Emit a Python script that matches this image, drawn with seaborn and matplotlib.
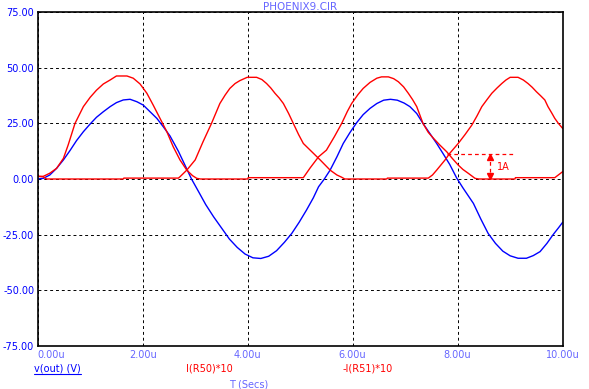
import numpy as np
import pandas as pd
import matplotlib
matplotlib.use("Agg")
import matplotlib.pyplot as plt
from matplotlib.lines import Line2D
import seaborn as sns

# Values (time in us)
t_vout = [0, 0.107, 0.23, 0.36, 0.49, 0.615, 0.74, 0.87, 1.0, 1.12, 1.25, 1.38, 1.50,
          1.63, 1.76, 1.89, 2.01, 2.14, 2.27, 2.39, 2.52, 2.68, 2.80, 2.93, 3.06, 3.20,
          3.35, 3.50, 3.65, 3.80, 3.95, 4.10, 4.25, 4.40, 4.55, 4.70, 4.84, 4.98, 5.12,
          5.25, 5.35, 5.46, 5.57, 5.70, 5.82, 5.95, 6.08, 6.20, 6.33, 6.46, 6.59, 6.72,
          6.85, 6.98, 7.09, 7.22, 7.34, 7.47, 7.60, 7.72, 7.85, 7.98, 8.10, 8.20, 8.30,
          8.44, 8.58, 8.72, 8.86, 9.00, 9.15, 9.31, 9.44, 9.57, 9.70, 9.82, 9.92, 10.0]
vout = [0, 0.3, 1.8, 4.8, 8.6, 12.8, 17.3, 21.3, 24.8, 27.8, 30.3, 32.6, 34.4,
        35.6, 35.9, 34.8, 33.3, 30.3, 27.3, 23.6, 19.4, 12.5, 6.5, 0, -5.5, -11.5,
        -17, -22, -27, -30.8, -33.8, -35.5, -35.8, -34.8, -32.3, -28.5, -24.5, -19.5, -14,
        -8.5, -3.5, 0, 4, 10, 16, 21, 25.5, 29, 31.8, 34, 35.5, 35.9,
        35.5, 34.2, 32.6, 29.5, 25, 20.5, 16, 11.5, 6.5, 0.5, -4, -7.5, -11,
        -18, -24.5, -29, -32.5, -34.6, -35.7, -35.7, -34.5, -32.7, -29, -25, -22, -19.5]

t_ir50 = [0, 0.107, 0.23, 0.36, 0.49, 0.58, 0.71, 0.87, 1.0, 1.12, 1.25, 1.38, 1.50,
          1.70, 1.82, 1.95, 2.08, 2.20, 2.33, 2.46, 2.58, 2.71, 2.84, 2.95, 3.03, 3.10,
          4.00, 4.01, 5.06, 5.19, 5.35, 5.50, 5.65, 5.79, 5.90, 5.98, 6.10, 6.20, 6.33,
          6.46, 6.55, 6.68, 6.78, 6.87, 6.97, 7.06, 7.14, 7.22, 7.34, 7.44, 7.54, 7.66,
          7.79, 7.90, 8.01, 8.10, 8.20, 8.33, 8.40, 9.09, 9.10, 9.85, 10.0]
ir50 = [1.2, 1.2, 2.6, 4.8, 9.3, 15.3, 25, 32.6, 36.8, 40, 42.8, 44.6, 46.4,
        46.4, 45.4, 42.8, 38.6, 33.3, 27.3, 21.3, 14.6, 8.6, 4, 1.5, 0.3, 0,
        0, 0.6, 0.6, 5, 10, 13, 19, 25, 30.5, 34, 38, 40.8, 43.5,
        45.4, 46, 46, 45.2, 43.8, 41.5, 38.6, 35.8, 32.6, 25, 21, 18.3, 15.3,
        12.3, 9.2, 6.3, 4.3, 2.6, 0.3, 0, 0, 0.6, 0.6, 3.3]

t_ir51 = [0, 0.10, 0.17, 1.63, 1.64, 2.68, 2.71, 2.84, 3.00, 3.15, 3.31, 3.47, 3.57,
          3.66, 3.76, 3.85, 3.99, 4.17, 4.27, 4.36, 4.44, 4.52, 4.60, 4.68, 4.78, 4.87,
          4.97, 5.06, 5.19, 5.38, 5.57, 5.70, 5.79, 5.85, 6.65, 6.66, 7.44, 7.52, 7.60,
          7.76, 7.85, 8.01, 8.14, 8.27, 8.37, 8.46, 8.56, 8.65, 8.75, 8.84, 8.92, 9.00,
          9.15, 9.25, 9.34, 9.42, 9.50, 9.58, 9.66, 9.72, 9.79, 9.85, 9.92, 10.0]
ir51 = [1.2, 1.0, 0, 0, 0.4, 0.4, 1, 4, 8.6, 16.8, 25, 34, 37.8,
        40.8, 43, 44.3, 45.8, 45.8, 44.8, 43, 41, 38.6, 36.5, 34, 29.5, 25,
        20, 16, 13, 8.6, 4, 1.8, 0.8, 0, 0, 0.4, 0.4, 1.8, 4,
        8.6, 11.6, 16, 20, 24.3, 28.5, 32.6, 35.8, 38.6, 41, 43, 44.6, 45.8,
        45.8, 44.6, 43, 41.3, 39.3, 37.5, 35.6, 32.6, 29.8, 27.3, 25, 22.8]

x_ticks = [0, 2, 4, 6, 8, 10]
x_tick_labels = ["0.00u", "2.00u", "4.00u", "6.00u", "8.00u", "10.00u"]
y_ticks = [-75, -50, -25, 0, 25, 50, 75]
y_tick_labels = ["-75.00", "-50.00", "-25.00", "0.00", "25.00", "50.00", "75.00"]

# "1A" cursor annotation
ann_t0, ann_t1, ann_level = 7.79, 9.09, 11.1
ann_x = 8.62

BLUE = "#0000ff"
RED = "#ff0000"
LIGHT = "#6666ff"

sns.set_theme(style="white")
plt.rcParams["font.family"] = ["DejaVu Sans"]
plt.rcParams["axes.unicode_minus"] = False

fig, ax = plt.subplots(figsize=(5.89, 3.89), dpi=100)
fig.subplots_adjust(left=0.064, right=0.9553, top=0.9679, bottom=0.1118)

sns.lineplot(x=t_vout, y=vout, ax=ax, color=BLUE, lw=1.0, estimator=None, sort=False)
sns.lineplot(x=t_ir50, y=ir50, ax=ax, color=RED, lw=1.0, estimator=None, sort=False)
sns.lineplot(x=t_ir51, y=ir51, ax=ax, color=RED, lw=1.0, estimator=None, sort=False)

# cursor annotation
ax.plot([ann_t0, ann_t1], [ann_level, ann_level], color=RED, lw=0.9, linestyle=(0, (3, 2.5)))
ax.plot([ann_x, ann_x], [0, ann_level], color=RED, lw=0.9, linestyle=(0, (3, 2.5)))
ax.plot([ann_x], [ann_level - 1.2], marker="^", color=RED, markersize=4, linestyle="none")
ax.plot([ann_x], [1.2], marker="v", color=RED, markersize=4, linestyle="none")
ax.text(ann_x + 0.12, ann_level / 2, "1A", color=RED, fontsize=7, va="center", ha="left")

ax.set_xlim(0, 10)
ax.set_ylim(-75, 75)
ax.set_xticks(x_ticks)
ax.set_xticklabels(x_tick_labels, color=LIGHT, fontsize=7)
ax.set_yticks(y_ticks)
ax.set_yticklabels(y_tick_labels, color=BLUE, fontsize=7)
ax.get_xticklabels()[0].set_ha("left")
ax.tick_params(axis="x", length=0, pad=3)
ax.tick_params(axis="y", length=0, pad=2.5)
ax.grid(True, color="black", linestyle=(0, (3, 3)), linewidth=0.7)
ax.set_xlabel("")
ax.set_ylabel("")
for sp in ax.spines.values():
    sp.set_color("black")
    sp.set_linewidth(1.2)

fig.text(0.5094, 1 - 6.7 / 389, "PHOENIX9.CIR", color=LIGHT, fontsize=7.5,
         ha="center", va="center")

leg_y = 1 - 368.7 / 389
t_out = fig.text(57.7 / 589, leg_y, "v(out) (V)", color=BLUE, fontsize=7, ha="center", va="center")
fig.text(209 / 589, leg_y, "I(R50)*10", color=RED, fontsize=7, ha="center", va="center")
fig.text(368 / 589, leg_y, "-I(R51)*10", color=RED, fontsize=7, ha="center", va="center")
fig.text(249 / 589, 1 - 384.5 / 389, "T (Secs)", color=LIGHT, fontsize=7, ha="center", va="center")

# underline for v(out) (V)
fig.canvas.draw()
bb = t_out.get_window_extent()
uy = (bb.y0 - 0.5) / fig.bbox.height
fig.add_artist(Line2D([bb.x0 / fig.bbox.width, bb.x1 / fig.bbox.width], [uy, uy],
                      color=BLUE, lw=0.8, transform=fig.transFigure))

fig.savefig("out.png", dpi=100)
